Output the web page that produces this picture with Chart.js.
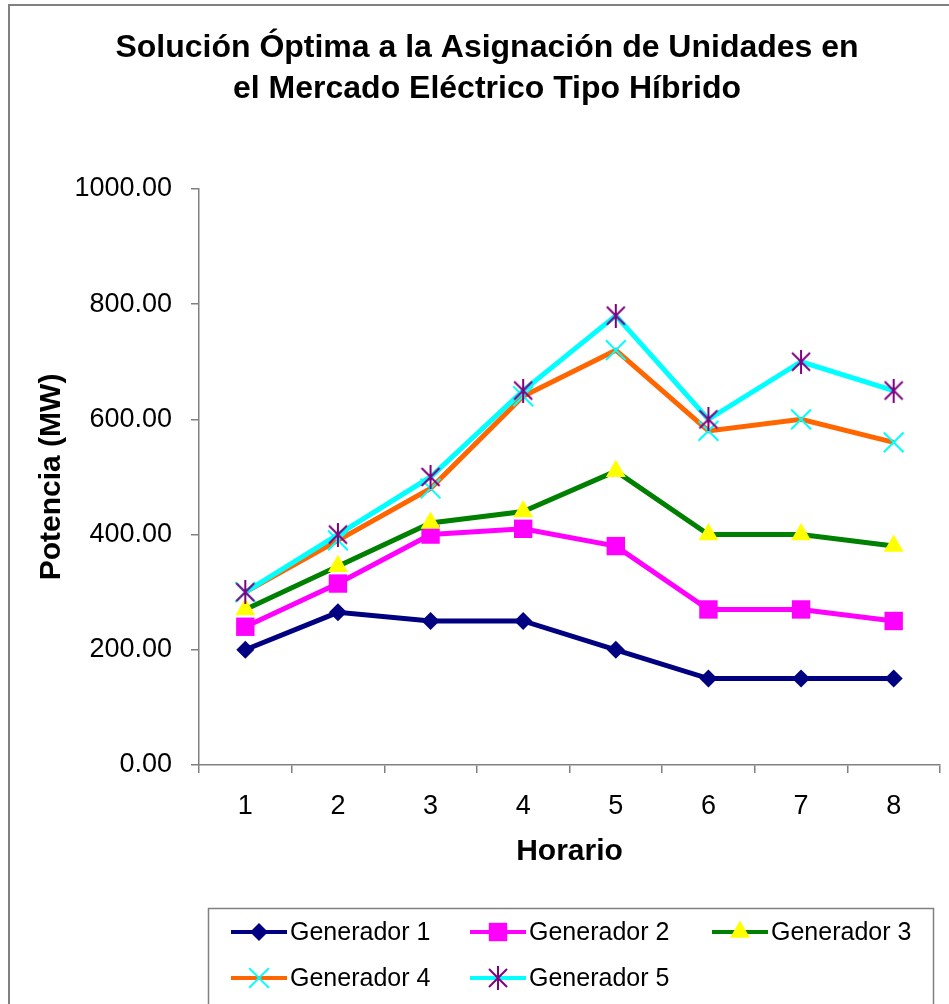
<!DOCTYPE html>
<html>
<head>
<meta charset="utf-8">
<script src="https://cdn.jsdelivr.net/npm/chart.js"></script>
<style>
  html, body { margin: 0; padding: 0; background: #fff; }
  canvas { display: block; }
</style>
</head>
<body>
<canvas id="chart" width="949" height="1004"></canvas>
<script>
// Datos
const horarios = ['1', '2', '3', '4', '5', '6', '7', '8'];
const generador1 = [200, 265, 250, 250, 200, 150, 150, 150];
const generador2 = [240, 315, 400, 410, 380, 270, 270, 250];
const generador3 = [270, 345, 420, 440, 510, 400, 400, 380];
const generador4 = [300, 390, 480, 640, 720, 580, 600, 560];
const generador5 = [300, 400, 500, 650, 780, 600, 700, 650];
const yTicks = [0, 200, 400, 600, 800, 1000];

const FONT = "'Liberation Sans', Arial, sans-serif";
const GRAY = '#808080';

// marcador tipo asterisco (X con linea vertical) como en Excel
function makeStar(color) {
    const c = document.createElement('canvas');
    c.width = 22; c.height = 24;
    const g = c.getContext('2d');
    g.strokeStyle = color;
    g.lineWidth = 2;
    g.beginPath();
    g.moveTo(2, 3); g.lineTo(20, 21);
    g.moveTo(20, 3); g.lineTo(2, 21);
    g.moveTo(11, 0); g.lineTo(11, 24);
    g.stroke();
    return c;
}
const starImg = makeStar('#800080');

// borde exterior del grafico
const frame = {
    id: 'frame',
    beforeDraw(chart) {
        const ctx = chart.ctx;
        ctx.save();
        ctx.fillStyle = '#fff';
        ctx.fillRect(0, 0, chart.width, chart.height);
        ctx.strokeStyle = GRAY;
        ctx.lineWidth = 2;
        ctx.strokeRect(9, 5, 1200, 1200);
        ctx.restore();
    }
};

// leyenda con linea + marcador, en rejilla de 3 columnas
const gridLegend = {
    id: 'gridLegend',
    afterDraw(chart) {
        const ctx = chart.ctx;
        const cols = [231, 470, 712];
        const rows = [932, 978];
        ctx.save();
        ctx.strokeStyle = GRAY;
        ctx.lineWidth = 1.5;
        ctx.strokeRect(208.5, 908.5, 725, 200);
        chart.data.datasets.forEach((ds, i) => {
            const x = cols[i % 3];
            const y = rows[Math.floor(i / 3)];
            ctx.strokeStyle = ds.borderColor;
            ctx.lineWidth = 4;
            ctx.beginPath();
            ctx.moveTo(x, y);
            ctx.lineTo(x + 56, y);
            ctx.stroke();
            ctx.fillStyle = ds.pointBackgroundColor;
            ctx.strokeStyle = ds.pointBorderColor;
            ctx.lineWidth = ds.pointBorderWidth;
            Chart.helpers.drawPoint(ctx, {
                pointStyle: ds.pointStyle,
                radius: ds.pointRadius,
                rotation: 0,
                borderWidth: ds.pointBorderWidth
            }, x + 28, y);
            ctx.fillStyle = '#000';
            ctx.font = '25px ' + FONT;
            ctx.textAlign = 'left';
            ctx.textBaseline = 'middle';
            ctx.fillText(ds.label, x + 59, y + 1);
        });
        ctx.restore();
    }
};

const ctx = document.getElementById('chart').getContext('2d');
new Chart(ctx, {
    type: 'line',
    data: {
        labels: horarios,
        datasets: [
            {
                label: 'Generador 1',
                data: generador1,
                borderColor: '#000080',
                borderWidth: 5,
                pointStyle: 'rectRot',
                pointRadius: 9,
                pointBackgroundColor: '#000080',
                pointBorderColor: '#000080',
                pointBorderWidth: 0,
                order: 5
            },
            {
                label: 'Generador 2',
                data: generador2,
                borderColor: '#FF00FF',
                borderWidth: 5,
                pointStyle: 'rect',
                pointRadius: 13,
                pointBackgroundColor: '#FF00FF',
                pointBorderColor: '#FF00FF',
                pointBorderWidth: 0,
                order: 4
            },
            {
                label: 'Generador 3',
                data: generador3,
                borderColor: '#008000',
                borderWidth: 5,
                pointStyle: 'triangle',
                pointRadius: 11.5,
                pointBackgroundColor: '#FFFF00',
                pointBorderColor: '#FFFF00',
                pointBorderWidth: 0,
                order: 3
            },
            {
                label: 'Generador 4',
                data: generador4,
                borderColor: '#FF6600',
                borderWidth: 5,
                pointStyle: 'crossRot',
                pointRadius: 14,
                pointBackgroundColor: '#00FFFF',
                pointBorderColor: '#00FFFF',
                pointBorderWidth: 2,
                order: 2
            },
            {
                label: 'Generador 5',
                data: generador5,
                borderColor: '#00FFFF',
                borderWidth: 5,
                pointStyle: starImg,
                pointRadius: 11,
                pointBackgroundColor: '#800080',
                pointBorderColor: '#800080',
                pointBorderWidth: 2,
                order: 1
            }
        ]
    },
    options: {
        responsive: false,
        animation: false,
        devicePixelRatio: 1,
        layout: { autoPadding: false, padding: { left: 34, right: 9, top: 0, bottom: 0 } },
        plugins: {
            legend: { display: false },
            tooltip: { enabled: false },
            title: {
                display: true,
                text: ['Solución Óptima a la Asignación de Unidades en', 'el Mercado Eléctrico Tipo Híbrido'],
                color: '#000',
                font: { family: FONT, size: 32, weight: 'bold', lineHeight: 1.28 },
                padding: { top: 28, bottom: 79 }
            }
        },
        elements: { line: { tension: 0 } },
        scales: {
            x: {
                offset: true,
                afterFit: (scale) => {
                    scale.height = 239;
                    scale.paddingLeft = 0;
                    scale.paddingRight = 0;
                },
                grid: { offset: true, drawOnChartArea: false, drawTicks: true, tickLength: 8, color: GRAY, lineWidth: 1.5 },
                border: { color: GRAY, width: 1.5 },
                ticks: { color: '#000', padding: 17, font: { family: FONT, size: 27 } },
                title: {
                    display: true,
                    text: 'Horario',
                    color: '#000',
                    font: { family: FONT, size: 30, weight: 'bold' },
                    padding: { top: 0, bottom: 134 }
                }
            },
            y: {
                min: 0,
                max: 1000,
                afterFit: (scale) => { scale.width = 165; },
                afterBuildTicks: (scale) => { scale.ticks = yTicks.map(v => ({ value: v })); },
                grid: { drawOnChartArea: false, drawTicks: true, tickLength: 8, color: GRAY, lineWidth: 1.5 },
                border: { color: GRAY, width: 1.5 },
                ticks: {
                    color: '#000',
                    padding: 19,
                    font: { family: FONT, size: 27 },
                    callback: (v) => Number(v).toFixed(2)
                },
                title: {
                    display: true,
                    text: 'Potencia (MW)',
                    color: '#000',
                    font: { family: FONT, size: 30, weight: 'bold' },
                    padding: 0
                }
            }
        }
    },
    plugins: [frame, gridLegend]
});
</script>
</body>
</html>
